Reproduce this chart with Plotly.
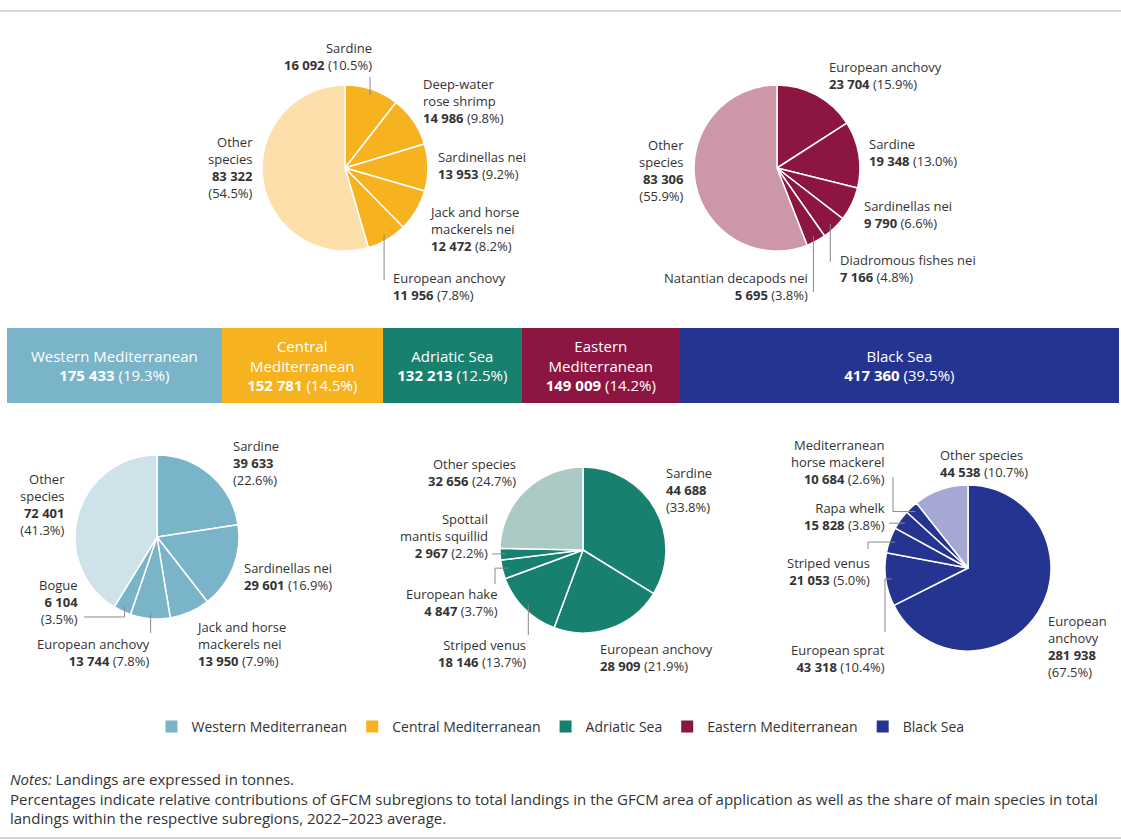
import math
import plotly.graph_objects as go

W, H = 1121, 840
FONT = "Open Sans, Noto Sans, DejaVu Sans, sans-serif"
TXT = "#333333"

# ---------------- data ----------------
regions = ["Western Mediterranean", "Central Mediterranean", "Adriatic Sea",
           "Eastern Mediterranean", "Black Sea"]
region_landings = [175433, 152781, 132213, 149009, 417360]
region_share = [19.3, 14.5, 12.5, 14.2, 39.5]
region_bar_names = ["Western Mediterranean", "Central<br>Mediterranean", "Adriatic Sea",
                    "Eastern<br>Mediterranean", "Black Sea"]
region_colors = ["#79B4C9", "#F6B21F", "#17806F", "#8C1542", "#253491"]
other_colors = ["#CFE2EA", "#FDDFAB", "#ABC9C5", "#CC97A7", "#A5A7D5"]

central_species = ["Sardine", "Deep-water<br>rose shrimp", "Sardinellas nei",
                   "Jack and horse<br>mackerels nei", "European anchovy", "Other<br>species"]
central_values = [16092, 14986, 13953, 12472, 11956, 83322]
central_pct = [10.5, 9.8, 9.2, 8.2, 7.8, 54.5]

eastern_species = ["European anchovy", "Sardine", "Sardinellas nei", "Diadromous fishes nei",
                   "Natantian decapods nei", "Other<br>species"]
eastern_values = [23704, 19348, 9790, 7166, 5695, 83306]
eastern_pct = [15.9, 13.0, 6.6, 4.8, 3.8, 55.9]

western_species = ["Sardine", "Sardinellas nei", "Jack and horse<br>mackerels nei",
                   "European anchovy", "Bogue", "Other<br>species"]
western_values = [39633, 29601, 13950, 13744, 6104, 72401]
western_pct = [22.6, 16.9, 7.9, 7.8, 3.5, 41.3]

adriatic_species = ["Sardine", "European anchovy", "Striped venus", "European hake",
                    "Spottail<br>mantis squillid", "Other species"]
adriatic_values = [44688, 28909, 18146, 4847, 2967, 32656]
adriatic_pct = [33.8, 21.9, 13.7, 3.7, 2.2, 24.7]

black_species = ["European<br>anchovy", "European sprat", "Striped venus", "Rapa whelk",
                 "Mediterranean<br>horse mackerel", "Other species"]
black_values = [281938, 43318, 21053, 15828, 10684, 44538]
black_pct = [67.5, 10.4, 5.0, 3.8, 2.6, 10.7]


def fmt(v):
    return f"{v:,}".replace(",", " ")


def px(x):
    return x / W


def py(y):
    return 1 - y / H


# ---------------- layout specs (pixels) ----------------
pies = [
    dict(names=central_species, values=central_values, pct=central_pct, ci=1,
         c=(345, 168), r=83,
         labels=[(374, 57, "right", " "), (421, 101, "left", " "), (436, 166, "left", " "),
                 (427, 229, "left", " "), (391, 286, "left", " "), (255, 168, "right", "<br>")],
         leaders=[(0, "v", 77), (4, "v", 280)]),
    dict(names=eastern_species, values=eastern_values, pct=eastern_pct, ci=3,
         c=(777, 168), r=83,
         labels=[(827, 75, "left", " "), (867, 152, "left", " "), (862, 215, "left", " "),
                 (838, 268, "left", " "), (810, 286, "right", " "), (686, 171, "right", "<br>")],
         leaders=[(3, "v", 262), (4, "v", 292)]),
    dict(names=western_species, values=western_values, pct=western_pct, ci=0,
         c=(157, 537), r=82,
         labels=[(231, 463, "left", "<br>"), (242, 576, "left", " "), (194, 644, "left", " "),
                 (152, 652, "right", " "), (80, 602, "right", "<br>"), (67, 504, "right", "<br>")],
         leaders=[(3, "v", 633), (4, "vh", 617, 84)]),
    dict(names=adriatic_species, values=adriatic_values, pct=adriatic_pct, ci=2,
         c=(583, 550), r=83,
         labels=[(664, 490, "left", "<br>"), (598, 657, "left", " "), (528, 653, "right", " "),
                 (500, 602, "right", " "), (490, 536, "right", " "), (518, 472, "right", " ")],
         leaders=[(4, "h", 492), (3, "hv", 495, 584), (2, "v", 635)]),
    dict(names=black_species, values=black_values, pct=black_pct, ci=4,
         c=(968, 568), r=83,
         labels=[(1046, 646, "left", "<br>"), (887, 658, "right", " "), (872, 571, "right", " "),
                 (887, 516, "right", " "), (887, 462, "right", " "), (938, 463, "left", " ")],
         leaders=[(4, "hv", 893, 477), (3, "h", 889), (2, "hv", 868, 549), (1, "hv", 885, 632)]),
]

fig = go.Figure()
annotations = []
shapes = []

# ---------------- stacked region bar ----------------
for i, reg in enumerate(regions):
    fig.add_trace(go.Bar(
        x=[region_share[i]], y=[0], orientation="h", name=reg,
        marker=dict(color=region_colors[i], line=dict(width=0)),
        width=1,
        text=[f"{region_bar_names[i]}<br><b>{fmt(region_landings[i])}</b> ({region_share[i]:.1f}%)"],
        textposition="inside", insidetextanchor="middle",
        textfont=dict(color="white", size=15, family=FONT),
        hoverinfo="skip",
    ))

# ---------------- pies ----------------
for p in pies:
    cx, cy = p["c"]
    r = p["r"]
    cols = [region_colors[p["ci"]]] * 5 + [other_colors[p["ci"]]]
    fig.add_trace(go.Pie(
        values=p["values"], labels=[n.replace("<br>", " ") for n in p["names"]],
        sort=False, direction="clockwise", rotation=0,
        marker=dict(colors=cols, line=dict(color="white", width=1.5)),
        textinfo="none", hoverinfo="label+value", showlegend=False,
        domain=dict(x=[px(cx - r), px(cx + r)], y=[py(cy + r), py(cy - r)]),
    ))
    for k, (lx, ly, anc, sep) in enumerate(p["labels"]):
        txt = f"{p['names'][k]}<br><b>{fmt(p['values'][k])}</b>{sep}({p['pct'][k]:.1f}%)"
        annotations.append(dict(
            x=px(lx), y=py(ly), xref="paper", yref="paper", text=txt, showarrow=False,
            xanchor=anc, yanchor="middle", align=anc,
            font=dict(size=13, color=TXT, family=FONT),
        ))
    total = sum(p["values"])
    for ld in p["leaders"]:
        idx = ld[0]
        mid = (sum(p["values"][:idx]) + p["values"][idx] / 2) / total * 2 * math.pi
        sx = cx + 0.93 * r * math.sin(mid)
        sy = cy - 0.93 * r * math.cos(mid)
        if ld[1] == "v":
            pts = [(sx, sy), (sx, ld[2])]
        elif ld[1] == "h":
            pts = [(sx, sy), (ld[2], sy)]
        elif ld[1] == "vh":
            pts = [(sx, sy), (sx, ld[2]), (ld[3], ld[2])]
        else:  # "hv"
            pts = [(sx, sy), (ld[2], sy), (ld[2], ld[3])]
        path = "M " + " L ".join(f"{px(a):.5f},{py(b):.5f}" for a, b in pts)
        shapes.append(dict(type="path", path=path, xref="paper", yref="paper",
                           line=dict(color="#8a8a8a", width=1)))

# ---------------- frame lines ----------------
for yy in (11, 838):
    shapes.append(dict(type="line", xref="paper", yref="paper", x0=0, x1=1,
                       y0=py(yy), y1=py(yy), line=dict(color="#d6d6d6", width=2)))

# ---------------- notes ----------------
annotations.append(dict(
    x=px(8), y=py(767), xref="paper", yref="paper", xanchor="left", yanchor="top",
    align="left", showarrow=False,
    text=("<i>Notes:</i> Landings are expressed in tonnes.<br>"
          "Percentages indicate relative contributions of GFCM subregions to total landings in the GFCM "
          "area of application as well as the share of main species in total<br>"
          "landings within the respective subregions, 2022\u20132023 average."),
    font=dict(size=15, color=TXT, family=FONT),
))

fig.update_layout(
    width=W, height=H, autosize=False,
    margin=dict(l=0, r=0, t=0, b=0),
    paper_bgcolor="white", plot_bgcolor="white",
    barmode="stack",
    xaxis=dict(domain=[px(7), px(1119)], range=[0, 100], visible=False, fixedrange=True),
    yaxis=dict(domain=[py(403), py(328)], range=[-0.5, 0.5], visible=False, fixedrange=True),
    legend=dict(orientation="h", x=0.5, xanchor="center", y=py(727), yanchor="middle",
                font=dict(size=14, color=TXT, family=FONT), traceorder="normal",
                itemclick=False, itemdoubleclick=False),
    annotations=annotations,
    shapes=shapes,
    font=dict(family=FONT, color=TXT),
    uniformtext=dict(minsize=10, mode="show"),
)

fig.write_html("out.html", config={"displayModeBar": False},
               post_script="document.body.style.margin='0';")
